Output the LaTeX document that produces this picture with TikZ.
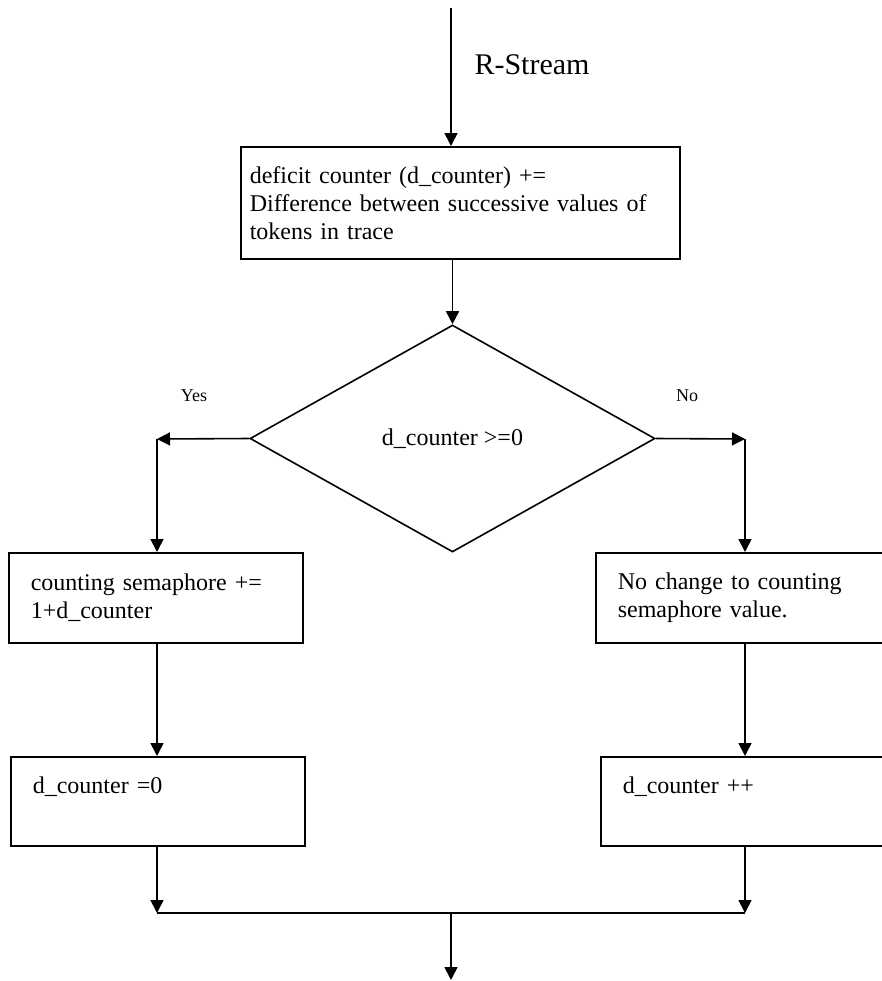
\documentclass[tikz,border=0pt]{standalone}
\usepackage{fontspec}
\setmainfont{Liberation Serif}
\usetikzlibrary{shapes.geometric,arrows.meta}

\begin{document}
\begin{tikzpicture}[x=0.5pt, y=-0.5pt, line width=0.8pt,
        box/.style={draw, rectangle, anchor=north west, align=left,
              font=\fontsize{12}{14}\selectfont},
        sidebox/.style={box, text width=125pt, inner xsep=11pt},
        flow/.style={-{Triangle[length=6.5pt,width=6.5pt]}},
        tag/.style={font=\fontsize{9}{11}\selectfont}]
        \useasboundingbox (0,0) rectangle (882,981);
        \clip (0,0) rectangle (882,981);
        \coordinate (in) at (451,8);
        \node[font=\fontsize{15}{18}\selectfont] (rs) at (532,65){R-Stream};
        \node[box, text width=210.5pt, inner xsep=4.5pt, minimum height=56pt]
              (deficit) at (240,146)
              {deficit counter (d\_counter) +=\\
               Difference between successive values of\\
               tokens in trace};
        \node[draw, diamond, aspect=1.78, inner sep=0pt,
              minimum width=202.5pt, minimum height=113.5pt,
              font=\fontsize{12}{14}\selectfont]
              (test) at (452.5,438.5){d\_counter >=0};
        \node[tag] (yes) at (194,396){Yes};
        \node[tag] (no) at (687,396){No};
        \coordinate (yesturn) at (157,439);
        \coordinate (noturn) at (745,439);
        \node[sidebox, minimum height=45pt] (sem) at (8,552)
              {counting semaphore +=\\1+d\_counter};
        \node[sidebox, minimum height=45pt] (nochange) at (595,552)
              {No change to counting\\semaphore value.};
        \node[sidebox, minimum height=44.5pt, text height=9pt, text depth=17pt]
              (zero) at (10,756){d\_counter =0};
        \node[sidebox, minimum height=44.5pt, text height=9pt, text depth=17pt]
              (incr) at (600,756){d\_counter ++};
        \coordinate (joinL) at (157,913);
        \coordinate (joinR) at (745,913);
        \coordinate (join) at (451,913);
        \coordinate (out) at (451,980);
        \draw[flow](in)--(in |- deficit.north);
        \draw[flow](test.north |- deficit.south)--(test.north);
        \draw[flow](test.west)--(yesturn);
        \draw[flow](test.east)--(noturn);
        \draw[flow](yesturn)--(yesturn |- sem.north);
        \draw[flow](noturn)--(noturn |- nochange.north);
        \draw[flow](yesturn |- sem.south)--(yesturn |- zero.north);
        \draw[flow](noturn |- nochange.south)--(noturn |- incr.north);
        \draw[flow](yesturn |- zero.south)--(joinL);
        \draw[flow](noturn |- incr.south)--(joinR);
        \draw (joinL)--(joinR);
        \draw[flow](join)--(out);
      \end{tikzpicture}
\end{document}
